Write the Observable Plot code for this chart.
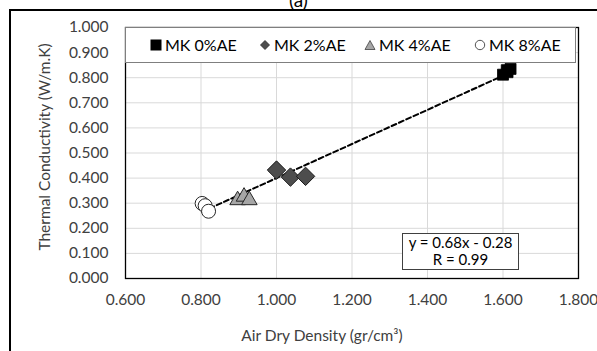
<!DOCTYPE html>
<html>
<head>
<meta charset="utf-8">
<script src="https://cdn.jsdelivr.net/npm/d3@7"></script>
<script src="https://cdn.jsdelivr.net/npm/@observablehq/plot@0.6"></script>
<style>
  body { margin: 0; background: #fff; }
  #wrap { position: relative; width: 597px; height: 351px; overflow: hidden; font-family: Lato, "Open Sans", sans-serif; color: #404040; background: #fff; }
  .fl { position: absolute; background: #000; z-index: 5; }
  #fl-top { left: 9px; top: 9px; width: 600px; height: 1.5px; }
  #fl-left { left: 9px; top: 9px; width: 1.5px; height: 360px; }
  #title { position: absolute; left: 0; width: 597px; top: -12px; text-align: center; font-size: 19px; color: #000; z-index: 6; }
  #legend { position: absolute; left: 125px; top: 27px; width: 451px; height: 36px; background: #fff; border: 1.3px solid #7f7f7f; box-sizing: border-box; font-size: 16px; color: #000; z-index: 3; }
  #legend .it { position: absolute; top: 7px; display: flex; align-items: center; gap: 3px; }
  #eq { position: absolute; left: 402px; top: 233px; width: 117px; height: 37px; background: #fff; border: 1.2px solid #404040; box-sizing: border-box; text-align: center; font-size: 15px; line-height: 17px; color: #000; z-index: 3; }
  #chart { position: absolute; left: 0; top: 0; z-index: 1; }
</style>
</head>
<body>
<div id="wrap">
  <div id="chart"></div>
  <div id="legend"></div>
  <div id="eq"></div>
  <div class="fl" id="fl-top"></div>
  <div class="fl" id="fl-left"></div>
  <div id="title">(a)</div>
</div>
<script>
// Data
const seriesNames = ["MK 0%AE", "MK 2%AE", "MK 4%AE", "MK 8%AE"];
const mk0x = [1.600, 1.610, 1.612, 1.620];
const mk0y = [0.812, 0.830, 0.822, 0.835];
const mk2x = [1.000, 1.037, 1.077];
const mk2y = [0.432, 0.404, 0.407];
const mk4x = [0.897, 0.914, 0.928];
const mk4y = [0.312, 0.326, 0.312];
const mk8x = [0.803, 0.811, 0.820];
const mk8y = [0.299, 0.290, 0.268];
const trendSlope = 0.68;
const trendIntercept = -0.28;
const trendR = 0.99;
const xTicks = [0.6, 0.8, 1.0, 1.2, 1.4, 1.6, 1.8];
const yTicks = [0, 0.1, 0.2, 0.3, 0.4, 0.5, 0.6, 0.7, 0.8, 0.9, 1.0];
const xLabel = "Air Dry Density (gr/cm³)";
const yLabel = "Thermal Conductivity (W/m.K)";

const toRows = (xs, ys, s) => xs.map((x, i) => ({x, y: ys[i], s}));
const rows0 = toRows(mk0x, mk0y, seriesNames[0]);
const rows2 = toRows(mk2x, mk2y, seriesNames[1]);
const rows4 = toRows(mk4x, mk4y, seriesNames[2]);
const rows8 = toRows(mk8x, mk8y, seriesNames[3]);
const all = [...rows0, ...rows2, ...rows4, ...rows8];
const [xmin, xmax] = d3.extent(all, d => d.x);
const trend = [xmin, xmax].map(x => ({x, y: trendSlope * x + trendIntercept}));

const txt = "#404040";
const chart = Plot.plot({
  width: 597,
  height: 351,
  marginLeft: 125,
  marginRight: 19,
  marginTop: 27,
  marginBottom: 73,
  style: {fontFamily: "Lato, 'Open Sans', sans-serif", fontSize: "15.5px", color: txt, background: "transparent", overflow: "visible"},
  x: {domain: [0.6, 1.8], ticks: xTicks, tickFormat: d3.format(".3f"), tickSize: 0, tickPadding: 15, label: null},
  y: {domain: [0, 1], ticks: yTicks, tickFormat: d3.format(".3f"), tickSize: 0, tickPadding: 17, label: null},
  marks: [
    Plot.gridX(xTicks, {stroke: "#d9d9d9", strokeOpacity: 1, strokeWidth: 1}),
    Plot.gridY(yTicks, {stroke: "#d9d9d9", strokeOpacity: 1, strokeWidth: 1}),
    Plot.frame({stroke: "#000", strokeWidth: 1.3}),
    Plot.axisX({ticks: xTicks, tickFormat: d3.format(".3f"), tickSize: 0, tickPadding: 15, fill: txt}),
    Plot.axisY({ticks: yTicks, tickFormat: d3.format(".3f"), tickSize: 0, tickPadding: 17, fill: txt}),
    Plot.text([xLabel], {frameAnchor: "bottom", textAnchor: "middle", dx: -30, dy: 62, fill: txt, fontSize: 15.5}),
    Plot.text([yLabel], {frameAnchor: "left", textAnchor: "middle", rotate: -90, dx: -80, dy: -6, fill: txt, fontSize: 15.5}),
    Plot.line(trend, {x: "x", y: "y", stroke: "#000", strokeWidth: 2, strokeDasharray: "5,3"}),
    Plot.dot(rows0, {x: "x", y: "y", symbol: "square", r: 6.2, fill: "#000", stroke: "#000", strokeWidth: 0.8}),
    Plot.dot(rows2, {x: "x", y: "y", symbol: "diamond2", r: 8.3, fill: "#4d4d4d", stroke: "#1a1a1a", strokeWidth: 1}),
    Plot.dot(rows4, {x: "x", y: "y", symbol: "triangle", r: 5.8, fill: "#a6a6a6", stroke: "#262626", strokeWidth: 1}),
    Plot.dot(rows8, {x: "x", y: "y", symbol: "circle", r: 7, fill: "#fff", stroke: "#262626", strokeWidth: 1})
  ]
});
document.getElementById("chart").appendChild(chart);

// Legend
const legendSymbols = [
  '<svg width="12" height="12"><rect x="0.5" y="0.5" width="11" height="11" fill="#000"/></svg>',
  '<svg width="12" height="12"><path d="M6,1.5L10.5,6L6,10.5L1.5,6Z" fill="#4d4d4d" stroke="#262626" stroke-width="0.8"/></svg>',
  '<svg width="12" height="12"><path d="M6,1.5L11,10.5L1,10.5Z" fill="#a6a6a6" stroke="#404040" stroke-width="0.8"/></svg>',
  '<svg width="12" height="12"><circle cx="6" cy="6" r="4.7" fill="#fff" stroke="#404040" stroke-width="0.9"/></svg>'
];
const legendLeft = [24, 133, 238, 348];
const leg = document.getElementById("legend");
seriesNames.forEach((n, i) => {
  const d = document.createElement("div");
  d.className = "it";
  d.style.left = legendLeft[i] + "px";
  d.innerHTML = legendSymbols[i] + "<span>" + n + "</span>";
  leg.appendChild(d);
});

// Equation box
document.getElementById("eq").innerHTML =
  `y = ${trendSlope.toFixed(2)}x - ${Math.abs(trendIntercept).toFixed(2)}<br>R = ${trendR.toFixed(2)}`;
</script>
</body>
</html>
